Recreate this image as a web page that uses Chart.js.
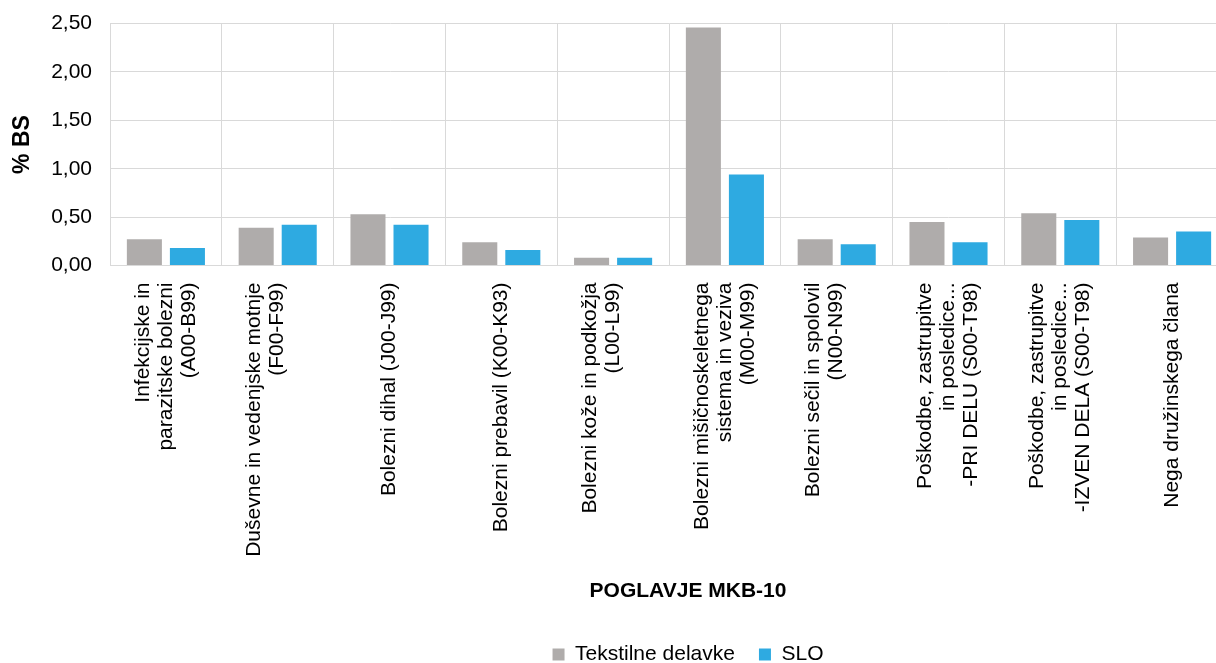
<!DOCTYPE html>
<html>
<head>
<meta charset="utf-8">
<script src="https://cdn.jsdelivr.net/npm/chart.js@4/dist/chart.umd.min.js"></script>
<style>
  body { margin: 0; overflow: hidden; background: #fff; }
  #wrap { width: 1216px; height: 663px; overflow: hidden; }
</style>
</head>
<body>
<div id="wrap">
  <canvas id="bsChart" width="1376" height="675"></canvas>
</div>
<script>
// diagnosis groups, one array of text lines per group
const poglavja = [
  ['Infekcijske in', 'parazitske bolezni', '(A00-B99)'],
  ['Duševne in vedenjske motnje', '(F00-F99)'],
  ['Bolezni dihal (J00-J99)'],
  ['Bolezni prebavil (K00-K93)'],
  ['Bolezni kože in podkožja', '(L00-L99)'],
  ['Bolezni mišičnoskeletnega', 'sistema in veziva', '(M00-M99)'],
  ['Bolezni sečil in spolovil', '(N00-N99)'],
  ['Poškodbe, zastrupitve', 'in posledice...', '-PRI DELU (S00-T98)'],
  ['Poškodbe, zastrupitve', 'in posledice...', '-IZVEN DELA (S00-T98)'],
  ['Nega družinskega člana']
];

// % BS
const tekstilneDelavke = [0.27, 0.39, 0.53, 0.24, 0.08, 2.46, 0.27, 0.45, 0.54, 0.29];
const slo = [0.18, 0.42, 0.42, 0.16, 0.08, 0.94, 0.22, 0.24, 0.47, 0.35];

const yTicks = { min: 0, max: 2.5, step: 0.5 };

const font = 'Liberation Sans, Arial, Helvetica, sans-serif';
const lineH = 23;

// labels are shifted one line to the left, so one-line labels get an empty first line
const xLabels = poglavja.map(lines => lines.length === 1 ? [''].concat(lines) : lines);

new Chart(document.getElementById('bsChart'), {
  type: 'bar',
  data: {
    labels: xLabels,
    datasets: [
      {
        label: 'Tekstilne delavke',
        data: tekstilneDelavke,
        backgroundColor: '#afacab',
        categoryPercentage: 0.77,
        barPercentage: 0.814
      },
      {
        label: 'SLO',
        data: slo,
        backgroundColor: '#2eaae1',
        categoryPercentage: 0.77,
        barPercentage: 0.814
      }
    ]
  },
  options: {
    responsive: false,
    animation: false,
    layout: { padding: { top: 16, left: 0, right: 0, bottom: 0 } },
    scales: {
      x: {
        grid: { color: '#d9d9d9', lineWidth: 1, drawTicks: false },
        border: { color: '#d9d9d9', width: 1 },
        ticks: {
          autoSkip: false,
          minRotation: 90,
          maxRotation: 90,
          padding: 17,
          labelOffset: -lineH,
          color: '#000',
          font: { family: font, size: 21, lineHeight: lineH + 'px' }
        }
      },
      y: {
        min: yTicks.min,
        max: yTicks.max,
        // invisible tick marks push the labels away from the axis
        grid: { color: '#d9d9d9', lineWidth: 1, drawTicks: true, tickLength: 7, tickColor: 'rgba(0,0,0,0)' },
        border: { color: '#d9d9d9', width: 1 },
        ticks: {
          stepSize: yTicks.step,
          padding: 11,
          color: '#000',
          font: { family: font, size: 21 },
          callback: v => v.toFixed(2).replace('.', ',')
        },
        title: {
          display: true,
          text: '% BS',
          color: '#000',
          padding: { top: 9, bottom: 0 },
          font: { family: font, size: 23, weight: 'bold' }
        },
        afterFit: s => { s.width = 110; }
      },
      // empty axis that keeps the plot area clear of the right edge
      yRight: {
        position: 'right',
        display: true,
        grid: { display: false },
        border: { display: false },
        ticks: { display: false },
        afterFit: s => { s.width = 148; }
      }
    },
    plugins: {
      title: {
        display: true,
        text: 'POGLAVJE MKB-10',
        position: 'bottom',
        weight: 500,
        color: '#000',
        padding: { top: 5, bottom: 16 },
        font: { family: font, size: 21, weight: 'bold' }
      },
      legend: {
        position: 'bottom',
        labels: {
          boxWidth: 12,
          boxHeight: 12,
          padding: 24,
          color: '#000',
          font: { family: font, size: 21 }
        }
      },
      tooltip: { enabled: false }
    }
  }
});
</script>
</body>
</html>
